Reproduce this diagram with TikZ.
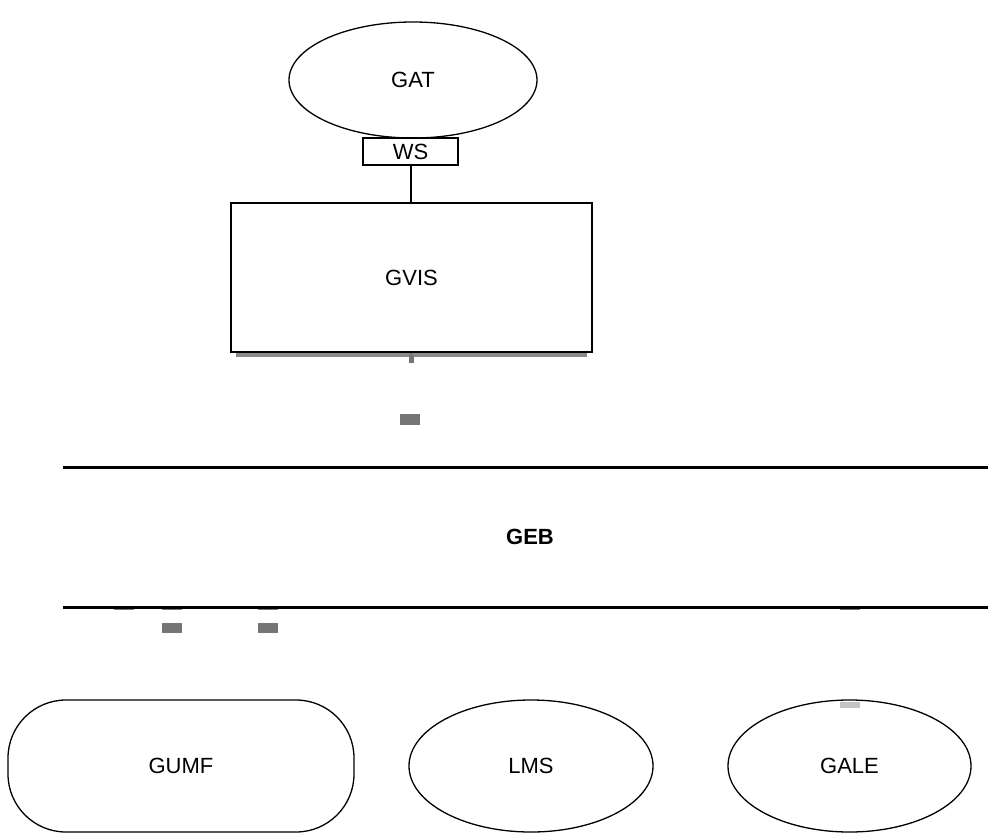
\documentclass[tikz,border=0pt]{standalone}
\usepackage{fontspec}
\setmainfont{Liberation Sans}
\usetikzlibrary{shapes.geometric}
\definecolor{markgray}{HTML}{757575}
\definecolor{lightmark}{HTML}{C4C4C4}
\definecolor{shadowgray}{HTML}{8A8A8A}
\begin{document}
\begin{tikzpicture}[x=1pt,y=-1pt,
  lbl/.style={font=\fontsize{22}{26}\selectfont},
  oval/.style={draw,ellipse,line width=1.3pt,inner sep=0pt,lbl},
  box/.style={draw,rectangle,line width=2pt,inner sep=0pt,lbl},
  busline/.style={line width=3pt},
  graymark/.style={fill=markgray,draw=none},
  lightgraymark/.style={fill=lightmark,draw=none}]
\useasboundingbox (0,0) rectangle (988,833);
% GVIS shadow
\fill[shadowgray] (236,352) rectangle (587,357);
\fill[markgray] (408.5,356) rectangle (413.5,363);
\fill[markgray] (409,356) -- (411,352) -- (413,356) -- cycle;
% nodes
\node[oval,minimum width=248pt,minimum height=116pt] (gat) at (413,80) {GAT};
\node[box,minimum width=95pt,minimum height=27pt,line width=1.6pt] (ws) at (410.5,151.5) {WS};
\node[box,minimum width=361pt,minimum height=149pt] (gvis) at (411.5,277.5) {GVIS};
\draw[line width=2pt] (ws.south) -- (ws.south |- gvis.north);
% bus
\coordinate (gebTL) at (63,467);
\coordinate (gebTR) at (988,467);
\coordinate (gebBL) at (63,607);
\coordinate (gebBR) at (988,607);
\draw[busline] (gebTL) -- (gebTR);
\draw[busline] (gebBL) -- (gebBR);
\node[lbl,font=\fontsize{22}{26}\selectfont\bfseries] (geb) at (530,537) {GEB};
% small marks
\fill[graymark] (400,414) rectangle (420,425);
\fill[graymark] (162,623) rectangle (182,633);
\fill[graymark] (258,623) rectangle (278,633);
\fill[graymark] (114,608.5) rectangle (134,609.5);
\fill[graymark] (162,608.5) rectangle (182,609.5);
\fill[graymark] (258,608.5) rectangle (278,609.5);
\fill[graymark] (840,608.5) rectangle (860,609.5);
% bottom nodes
\node[draw,rectangle,rounded corners=58pt,line width=1.3pt,inner sep=0pt,lbl,minimum width=346pt,minimum height=132pt] (gumf) at (181,766) {GUMF};
\node[oval,minimum width=244pt,minimum height=132pt] (lms) at (531,766) {LMS};
\node[oval,minimum width=243pt,minimum height=132pt] (gale) at (849.5,766) {GALE};
\fill[lightgraymark] (840,702) rectangle (860,708);
\end{tikzpicture}
\end{document}
